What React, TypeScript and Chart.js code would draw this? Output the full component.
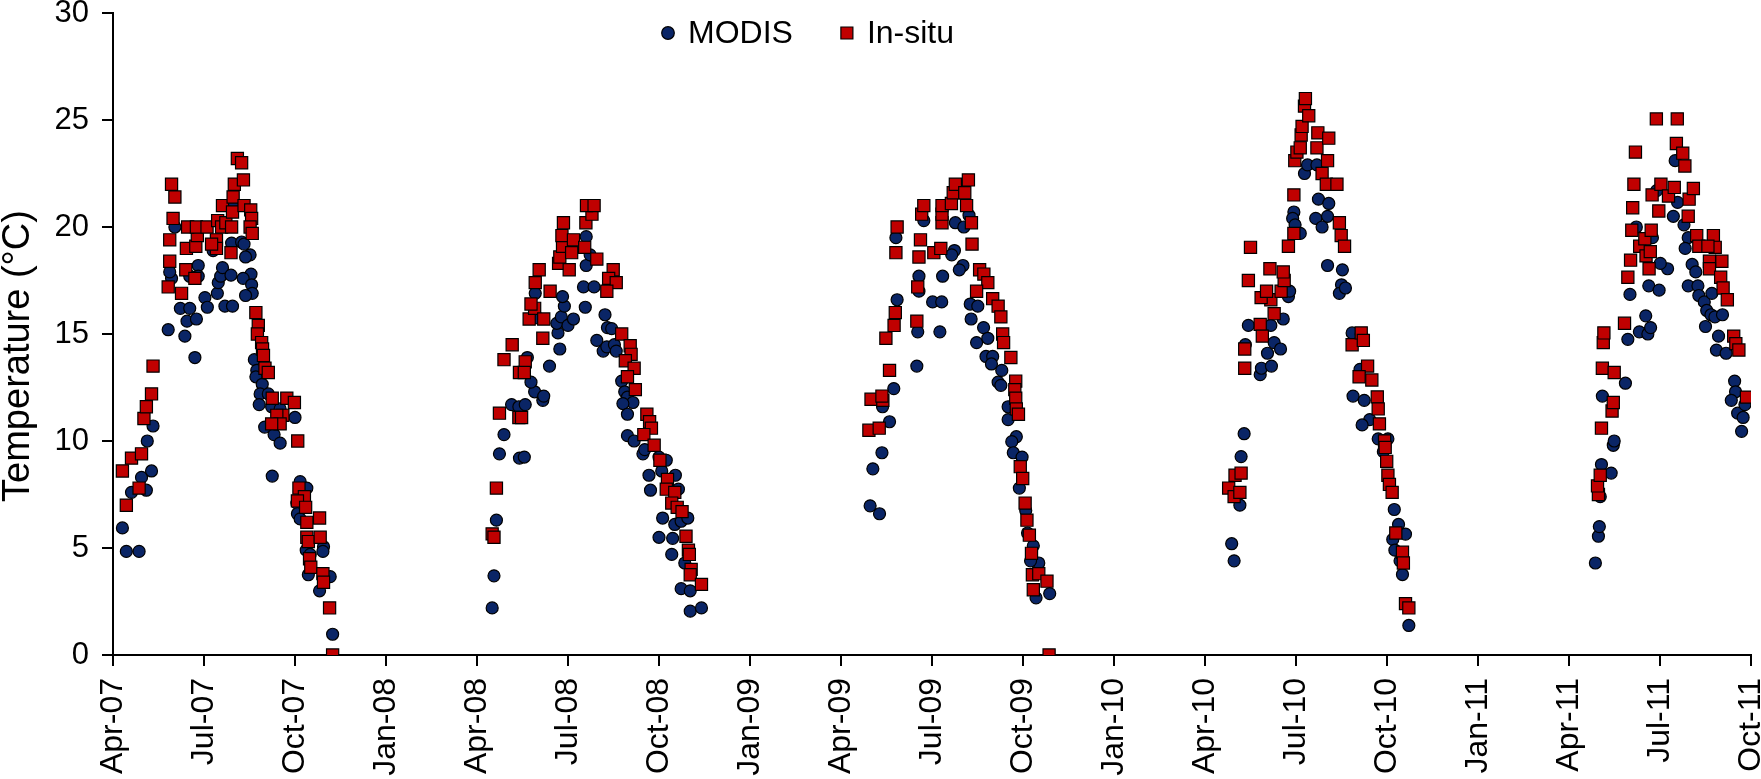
import React, { useEffect, useRef } from "react";
import Chart from "chart.js/auto";

// x = months after 1 Apr 2007, y = temperature in °C
const quarterLabels = [
  "Apr-07", "Jul-07", "Oct-07", "Jan-08", "Apr-08", "Jul-08", "Oct-08",
  "Jan-09", "Apr-09", "Jul-09", "Oct-09", "Jan-10", "Apr-10", "Jul-10",
  "Oct-10", "Jan-11", "Apr-11", "Jul-11", "Oct-11",
];
const yTicks = [0, 5, 10, 15, 20, 25, 30];
const seriesNames = ["MODIS", "In-situ"];
const yTitle = "Temperature (°C)";

const modis2007 = [
  [0.31, 5.94], [0.44, 4.84], [0.86, 4.84], [0.61, 7.6], [0.94, 8.3], [1.1, 7.7],
  [1.27, 8.6], [1.13, 10.0], [1.32, 10.7], [1.82, 15.2], [2.37, 14.9], [2.7, 13.9],
  [2.22, 16.2], [2.53, 16.2], [2.44, 15.6], [2.75, 15.7], [1.93, 17.6], [1.87, 17.9],
  [2.04, 20.0], [2.81, 18.2], [2.81, 17.7], [2.53, 17.7], [3.03, 16.7], [3.11, 16.25],
  [3.44, 16.9], [3.69, 16.3], [3.94, 16.3], [3.47, 17.4], [3.55, 17.7], [3.61, 18.1],
  [3.89, 17.75], [3.3, 18.9], [3.91, 19.25], [4.24, 19.3], [4.32, 19.2], [4.52, 18.7],
  [4.37, 18.6], [4.55, 17.8], [4.29, 17.6], [4.57, 17.3], [4.59, 16.9], [4.37, 16.8],
  [3.96, 21.0], [4.66, 13.8], [4.74, 13.3], [4.71, 13.0], [4.92, 12.65], [4.85, 12.2],
  [4.82, 11.7], [5.12, 12.2], [5.23, 11.6], [5.51, 11.5], [6.0, 11.1], [5.0, 10.65],
  [5.31, 10.3], [5.51, 9.9], [5.25, 8.36], [6.17, 8.1], [6.39, 7.8], [6.06, 7.1],
  [6.08, 6.6], [6.17, 6.36], [6.37, 4.9], [6.5, 4.7], [6.44, 3.75], [6.94, 5.06],
  [6.92, 4.84], [7.16, 3.66], [6.81, 3.0], [7.24, 0.97],
];
const insitu2007 = [
  [0.31, 8.6], [0.44, 7.0], [0.61, 9.2], [0.86, 7.8], [0.94, 9.4], [1.02, 11.05],
  [1.1, 11.6], [1.27, 12.2], [1.32, 13.5], [1.93, 22.0], [2.04, 21.4], [1.98, 20.4],
  [1.87, 19.4], [1.87, 18.4], [1.82, 17.2], [2.26, 16.9], [2.4, 18.0], [2.7, 17.6],
  [2.42, 19.0], [2.73, 19.1], [2.78, 19.6], [2.46, 20.0], [2.75, 20.0], [3.1, 20.0],
  [3.41, 19.4], [3.41, 19.0], [3.25, 19.2], [3.89, 18.8], [3.45, 20.3], [3.58, 20.0],
  [3.72, 20.2], [3.91, 20.0], [3.61, 21.0], [3.94, 20.7], [3.96, 21.4], [4.0, 22.0],
  [4.3, 22.2], [4.1, 23.2], [4.24, 23.0], [4.32, 21.0], [4.54, 20.8], [4.57, 20.4],
  [4.52, 20.0], [4.59, 19.7], [4.71, 16.0], [4.79, 15.4], [4.76, 15.0], [4.9, 14.6],
  [4.93, 14.3], [4.96, 14.0], [5.01, 13.4], [5.12, 13.2], [5.25, 12.0], [5.73, 12.0],
  [5.98, 11.8], [5.6, 11.2], [5.4, 11.2], [5.51, 10.8], [5.23, 10.8], [6.09, 10.0],
  [6.13, 7.8], [6.31, 7.4], [6.08, 7.2], [6.35, 6.9], [6.39, 6.2], [6.81, 6.4],
  [6.39, 5.5], [6.44, 5.3], [6.83, 5.5], [6.48, 4.5], [6.52, 4.1], [6.92, 3.8],
  [6.94, 3.4], [7.14, 2.2], [7.24, 0.0],
];

const modis2008 = [
  [12.5, 2.2], [12.56, 3.7], [12.64, 6.3], [12.74, 9.4], [12.89, 10.3], [13.14, 11.7],
  [13.38, 11.6], [13.4, 9.2], [13.56, 9.25], [13.59, 11.7], [13.9, 12.3], [14.17, 11.9],
  [14.2, 12.1], [13.78, 12.75], [13.66, 13.9], [14.39, 13.5], [14.73, 14.3], [14.67, 15.05],
  [14.63, 15.5], [14.78, 15.8], [15.0, 15.4], [15.18, 15.7], [14.88, 16.3], [14.82, 16.75],
  [13.92, 16.9], [14.0, 15.75], [15.51, 17.2], [15.86, 17.2], [15.57, 16.25], [15.6, 18.2],
  [15.6, 19.55], [15.73, 18.7], [16.22, 15.9], [16.3, 15.3], [16.44, 15.25], [15.95, 14.7],
  [16.16, 14.2], [16.28, 14.4], [16.53, 14.5], [16.59, 14.2], [16.77, 12.8], [16.87, 12.3],
  [16.96, 12.05], [17.14, 11.8], [16.81, 11.75], [16.96, 11.25], [16.96, 10.25], [17.18, 10.0],
  [17.47, 9.4], [17.53, 9.6], [17.67, 8.4], [17.72, 7.7], [18.0, 9.25], [18.09, 8.6],
  [18.24, 9.1], [18.54, 8.4], [18.64, 7.75], [18.12, 6.4], [18.52, 6.1], [18.73, 6.25],
  [18.95, 6.4], [18.0, 5.5], [18.45, 5.45], [18.42, 4.7], [18.85, 4.3], [18.73, 3.1],
  [19.03, 3.0], [19.03, 2.05], [19.4, 2.2],
];
const insitu2008 = [
  [12.5, 5.66], [12.56, 5.5], [12.64, 7.8], [12.74, 11.3], [12.89, 13.8], [13.16, 14.5],
  [13.4, 13.2], [13.38, 11.1], [13.47, 11.1], [13.59, 13.7], [13.56, 13.2], [13.72, 15.7],
  [13.9, 16.2], [13.78, 16.4], [14.2, 15.7], [14.17, 14.8], [13.92, 17.4], [14.05, 18.0],
  [14.41, 17.0], [14.69, 18.3], [14.73, 18.6], [14.82, 19.1], [14.8, 19.6], [14.85, 20.2],
  [15.04, 18.0], [15.12, 18.8], [15.18, 19.4], [15.55, 19.05], [15.59, 20.2], [15.79, 20.6],
  [15.61, 21.0], [15.86, 21.0], [15.95, 18.5], [16.49, 18.0], [16.34, 17.6], [16.59, 17.4],
  [16.28, 17.0], [16.77, 15.0], [17.05, 14.45], [17.08, 14.05], [16.89, 13.75], [17.18, 13.4],
  [16.96, 13.0], [17.22, 12.4], [17.6, 11.25], [17.69, 10.9], [17.75, 10.6], [17.5, 10.3],
  [17.84, 9.8], [18.03, 9.1], [18.28, 8.2], [18.24, 7.75], [18.52, 7.6], [18.42, 7.1],
  [18.6, 6.9], [18.76, 6.7], [18.89, 5.55], [18.97, 4.9], [19.0, 4.7], [19.06, 4.0],
  [19.03, 3.75], [19.4, 3.3],
];

const modis2009 = [
  [24.96, 6.97], [25.27, 6.6], [25.05, 8.7], [25.35, 9.45], [25.6, 10.9], [25.37, 11.6],
  [25.74, 12.45], [26.5, 13.5], [26.53, 15.1], [27.26, 15.1], [25.85, 16.6], [26.57, 17.0],
  [26.57, 17.7], [27.02, 16.5], [27.32, 16.5], [27.35, 17.7], [25.81, 19.5], [26.73, 20.3],
  [27.77, 20.2], [28.05, 20.0], [27.74, 18.9], [27.65, 18.7], [28.02, 18.2], [27.9, 18.0],
  [28.22, 20.55], [28.26, 16.4], [28.51, 16.3], [28.7, 15.3], [28.29, 15.7], [28.47, 14.6],
  [28.84, 14.8], [28.78, 13.95], [29.0, 13.95], [28.96, 13.6], [29.3, 13.3], [29.18, 12.75],
  [29.27, 12.6], [29.51, 11.6], [29.51, 11.0], [29.78, 10.2], [29.63, 9.97], [29.68, 9.45],
  [29.97, 9.25], [29.88, 7.8], [30.09, 6.75], [30.15, 5.7], [30.34, 5.1], [30.52, 4.3],
  [30.25, 4.4], [30.43, 2.67], [30.88, 2.87],
];
const insitu2009 = [
  [24.92, 10.5], [24.99, 11.95], [25.26, 10.6], [25.38, 11.9], [25.35, 12.1], [25.6, 13.3],
  [25.48, 14.8], [25.75, 15.4], [25.79, 16.0], [25.81, 18.8], [25.85, 20.0], [26.5, 15.6],
  [26.53, 17.2], [26.57, 18.6], [26.62, 19.4], [26.66, 20.6], [26.73, 21.0], [27.06, 18.8],
  [27.29, 19.0], [27.33, 20.2], [27.33, 20.6], [27.33, 21.0], [27.64, 21.1], [27.7, 21.6],
  [27.77, 22.0], [28.08, 21.6], [28.2, 22.2], [28.14, 21.0], [28.3, 20.2], [28.32, 19.2],
  [28.57, 18.0], [28.71, 17.8], [28.84, 17.4], [28.47, 17.0], [29.0, 16.65], [29.18, 16.3],
  [29.27, 15.8], [29.33, 15.0], [29.36, 14.6], [29.6, 13.9], [29.76, 12.8], [29.73, 12.4],
  [29.76, 12.0], [29.78, 11.5], [29.85, 11.25], [29.91, 8.8], [29.99, 8.25], [30.07, 7.1],
  [30.13, 6.3], [30.21, 5.6], [30.28, 4.75], [30.31, 3.75], [30.52, 3.8], [30.34, 3.05],
  [30.79, 3.45], [30.86, 0.0],
];

const modis2010 = [
  [36.96, 4.4], [36.88, 5.2], [37.15, 7.0], [37.19, 9.27], [37.29, 10.34], [37.43, 15.4],
  [37.33, 14.5], [37.82, 13.1], [37.86, 13.4], [38.19, 13.5], [38.06, 14.1], [38.28, 14.6],
  [38.49, 14.3], [38.58, 15.7], [38.17, 15.4], [38.75, 16.75], [38.79, 17.0], [38.93, 20.7],
  [38.89, 20.4], [38.97, 20.1], [39.14, 19.7], [39.28, 22.5], [39.38, 22.9], [39.69, 22.9],
  [39.74, 21.3], [40.08, 21.1], [39.65, 20.4], [40.04, 20.5], [39.86, 20.0], [40.04, 18.2],
  [40.53, 18.0], [40.5, 17.3], [40.43, 16.9], [40.63, 17.15], [40.85, 15.05], [41.15, 15.0],
  [41.22, 14.8], [41.43, 11.0], [41.11, 13.35], [40.88, 12.1], [41.25, 11.9], [41.18, 10.75],
  [41.71, 10.1], [42.03, 10.1], [41.88, 9.5], [42.24, 6.8], [42.38, 6.1], [42.61, 5.65],
  [42.19, 5.4], [42.26, 4.9], [42.43, 4.4], [42.51, 3.76], [42.72, 1.38],
];
const insitu2010 = [
  [36.78, 7.8], [36.96, 7.4], [36.99, 8.4], [37.19, 8.5], [37.15, 7.6], [37.31, 13.4],
  [37.31, 14.3], [37.43, 17.5], [37.5, 19.05], [37.82, 15.45], [37.89, 14.9], [38.28, 15.95],
  [38.17, 16.6], [37.85, 16.7], [38.03, 17.0], [38.51, 17.0], [38.61, 17.5], [38.58, 17.9],
  [38.14, 18.05], [38.75, 19.1], [38.93, 19.7], [38.93, 21.5], [38.96, 23.1], [39.03, 23.5],
  [39.14, 23.7], [39.17, 24.3], [39.2, 24.7], [39.28, 25.65], [39.42, 25.2], [39.31, 26.0],
  [39.69, 23.7], [39.86, 22.5], [39.72, 24.4], [40.08, 24.15], [40.04, 23.1], [40.0, 22.0],
  [40.35, 22.0], [40.43, 20.2], [40.49, 19.6], [40.6, 19.1], [40.85, 14.5], [41.15, 15.05],
  [41.22, 14.7], [41.36, 13.5], [41.08, 13.0], [41.5, 12.85], [41.68, 12.06], [41.71, 11.5],
  [41.75, 10.8], [41.92, 10.0], [41.94, 9.7], [41.99, 9.05], [42.03, 8.4], [42.08, 7.97],
  [42.17, 7.6], [42.29, 5.7], [42.51, 4.8], [42.54, 4.3], [42.61, 2.4], [42.72, 2.2],
];

const modis2011 = [
  [48.87, 4.3], [48.97, 5.55], [49.0, 6.0], [49.03, 7.4], [49.07, 8.9], [49.39, 8.5],
  [49.46, 9.8], [49.49, 10.0], [49.1, 12.1], [49.86, 12.7], [49.94, 14.75], [50.32, 15.1],
  [50.6, 15.0], [50.69, 15.3], [50.53, 15.85], [50.01, 16.85], [50.63, 17.25], [50.97, 17.05],
  [51.25, 18.05], [51.01, 18.3], [50.75, 19.5], [50.22, 20.0], [50.89, 21.7], [51.58, 21.15],
  [51.44, 20.5], [51.79, 20.1], [51.93, 19.5], [51.83, 19.0], [51.5, 23.1], [51.93, 17.25],
  [52.25, 17.25], [52.06, 18.25], [52.18, 17.9], [52.28, 16.8], [52.46, 16.5], [52.54, 16.1],
  [52.68, 15.9], [52.5, 15.35], [52.81, 15.8], [53.06, 15.9], [52.71, 16.9], [52.93, 14.9],
  [52.86, 14.25], [53.18, 14.1], [53.46, 12.8], [53.49, 12.3], [53.35, 11.9], [53.56, 11.3],
  [53.74, 11.1], [53.69, 10.45], [53.8, 11.7],
];
const insitu2011 = [
  [48.97, 7.5], [48.94, 7.9], [49.03, 8.4], [49.07, 10.6], [49.42, 11.4], [49.46, 11.8],
  [49.1, 13.4], [49.49, 13.2], [49.13, 14.6], [49.15, 15.05], [49.83, 15.5], [49.94, 17.65],
  [50.03, 18.45], [50.07, 19.85], [50.1, 20.9], [50.14, 22.0], [50.19, 23.5], [50.33, 19.1],
  [50.5, 19.45], [50.54, 18.65], [50.68, 18.85], [50.64, 18.05], [50.71, 19.85], [50.74, 21.5],
  [50.96, 20.75], [51.03, 22.0], [50.88, 25.05], [51.57, 25.05], [51.28, 21.45], [51.47, 21.85],
  [51.54, 23.9], [51.75, 23.45], [51.82, 22.85], [51.96, 21.3], [52.1, 21.8], [51.93, 20.5],
  [52.21, 19.6], [52.28, 19.1], [52.76, 19.6], [52.82, 19.05], [52.58, 19.1], [52.63, 18.4],
  [53.04, 18.4], [52.63, 18.05], [53.0, 17.65], [53.08, 17.15], [53.22, 16.6], [53.43, 14.9],
  [53.5, 14.55], [53.6, 14.25], [53.85, 12.05],
];

const modis = [...modis2007, ...modis2008, ...modis2009, ...modis2010, ...modis2011];
const insitu = [...insitu2007, ...insitu2008, ...insitu2009, ...insitu2010, ...insitu2011];

const toPoints = (pairs: number[][]) => pairs.map(([x, y]) => ({ x, y }));

const FONT = '"Liberation Sans", Arial, Helvetica, sans-serif';
const BLUE = "#0a2566";
const RED = "#c00000";

// legend drawn inside the plot, near the top
const innerLegend = {
  id: "innerLegend",
  afterDatasetsDraw(chart: any) {
    const { ctx, chartArea } = chart;
    const y = chartArea.top + 20;
    let x = chartArea.left + 555;
    ctx.save();
    ctx.font = `32px ${FONT}`;
    ctx.textBaseline = "middle";
    ctx.lineWidth = 1.2;
    ctx.strokeStyle = "#000";
    chart.data.datasets.forEach((ds: any) => {
      ctx.fillStyle = ds.backgroundColor;
      ctx.beginPath();
      if (ds.pointStyle === "rect") {
        ctx.rect(x - 6, y - 6, 12, 12);
      } else {
        ctx.arc(x, y, 6.3, 0, Math.PI * 2);
      }
      ctx.fill();
      ctx.stroke();
      ctx.fillStyle = "#000";
      ctx.fillText(ds.label, x + 20, y + 1);
      x += 20 + ctx.measureText(ds.label).width + 54;
    });
    ctx.restore();
  },
};

// y-axis title, sitting a little below the middle of the axis like the original
const sideTitle = {
  id: "sideTitle",
  afterDraw(chart: any) {
    const { ctx, chartArea } = chart;
    const cy = (chartArea.top + chartArea.bottom) / 2 + 22;
    ctx.save();
    ctx.translate(19, cy);
    ctx.rotate(-Math.PI / 2);
    ctx.font = `38px ${FONT}`;
    ctx.fillStyle = "#000";
    ctx.textAlign = "center";
    ctx.textBaseline = "middle";
    ctx.fillText(yTitle, 0, 0);
    ctx.restore();
  },
};

const TemperatureChart = () => {
  const canvasRef = useRef<HTMLCanvasElement>(null);
  const chartRef = useRef<Chart | null>(null);

  useEffect(() => {
    if (!canvasRef.current) return;
    chartRef.current = new Chart(canvasRef.current, {
      type: "scatter",
      data: {
        datasets: [
          {
            label: seriesNames[0],
            data: toPoints(modis),
            pointStyle: "circle",
            pointRadius: 6,
            backgroundColor: BLUE,
            borderColor: "#000",
            borderWidth: 1.2,
            order: 2,
          },
          {
            label: seriesNames[1],
            data: toPoints(insitu),
            pointStyle: "rect",
            pointRadius: 8.6,
            backgroundColor: RED,
            borderColor: "#000",
            borderWidth: 1.2,
            order: 1,
          },
        ],
      },
      options: {
        responsive: false,
        animation: false,
        events: [],
        layout: { padding: { top: 13, right: 10, left: 0, bottom: 0 } },
        plugins: {
          legend: { display: false },
          tooltip: { enabled: false },
        },
        scales: {
          x: {
            type: "linear",
            min: 0,
            max: 54,
            afterFit: (scale: any) => {
              scale.height = 124;
              scale.paddingLeft = 0;
              scale.paddingRight = 0;
            },
            afterBuildTicks: (scale: any) => {
              scale.ticks = quarterLabels.map((_, i) => ({ value: i * 3 }));
            },
            ticks: {
              autoSkip: false,
              minRotation: 90,
              maxRotation: 90,
              padding: 12,
              color: "#000",
              font: { family: FONT, size: 32 },
              callback: (v: any) => quarterLabels[Math.round(Number(v) / 3)],
            },
            grid: {
              drawOnChartArea: false,
              drawTicks: true,
              tickLength: 11,
              color: "#000",
              lineWidth: 2,
            },
            border: { display: true, color: "#000", width: 2 },
          },
          y: {
            min: 0,
            max: 30,
            afterFit: (scale: any) => {
              scale.width = 113;
              scale.paddingTop = 0;
              scale.paddingBottom = 0;
            },
            afterBuildTicks: (scale: any) => {
              scale.ticks = yTicks.map((value) => ({ value }));
            },
            ticks: {
              padding: 13,
              color: "#000",
              font: { family: FONT, size: 31 },
            },
            grid: {
              drawOnChartArea: false,
              drawTicks: true,
              tickLength: 11,
              color: "#000",
              lineWidth: 2,
            },
            border: { display: true, color: "#000", width: 2 },
          },
        },
      },
      plugins: [innerLegend, sideTitle],
    });
    return () => {
      chartRef.current?.destroy();
    };
  }, []);

  return <canvas ref={canvasRef} width={1761} height={779} />;
};

export default function App() {
  return (
    <div
      style={{
        position: "absolute",
        left: 0,
        top: 0,
        width: 1761,
        height: 779,
        background: "#fff",
      }}
    >
      <TemperatureChart />
    </div>
  );
}
